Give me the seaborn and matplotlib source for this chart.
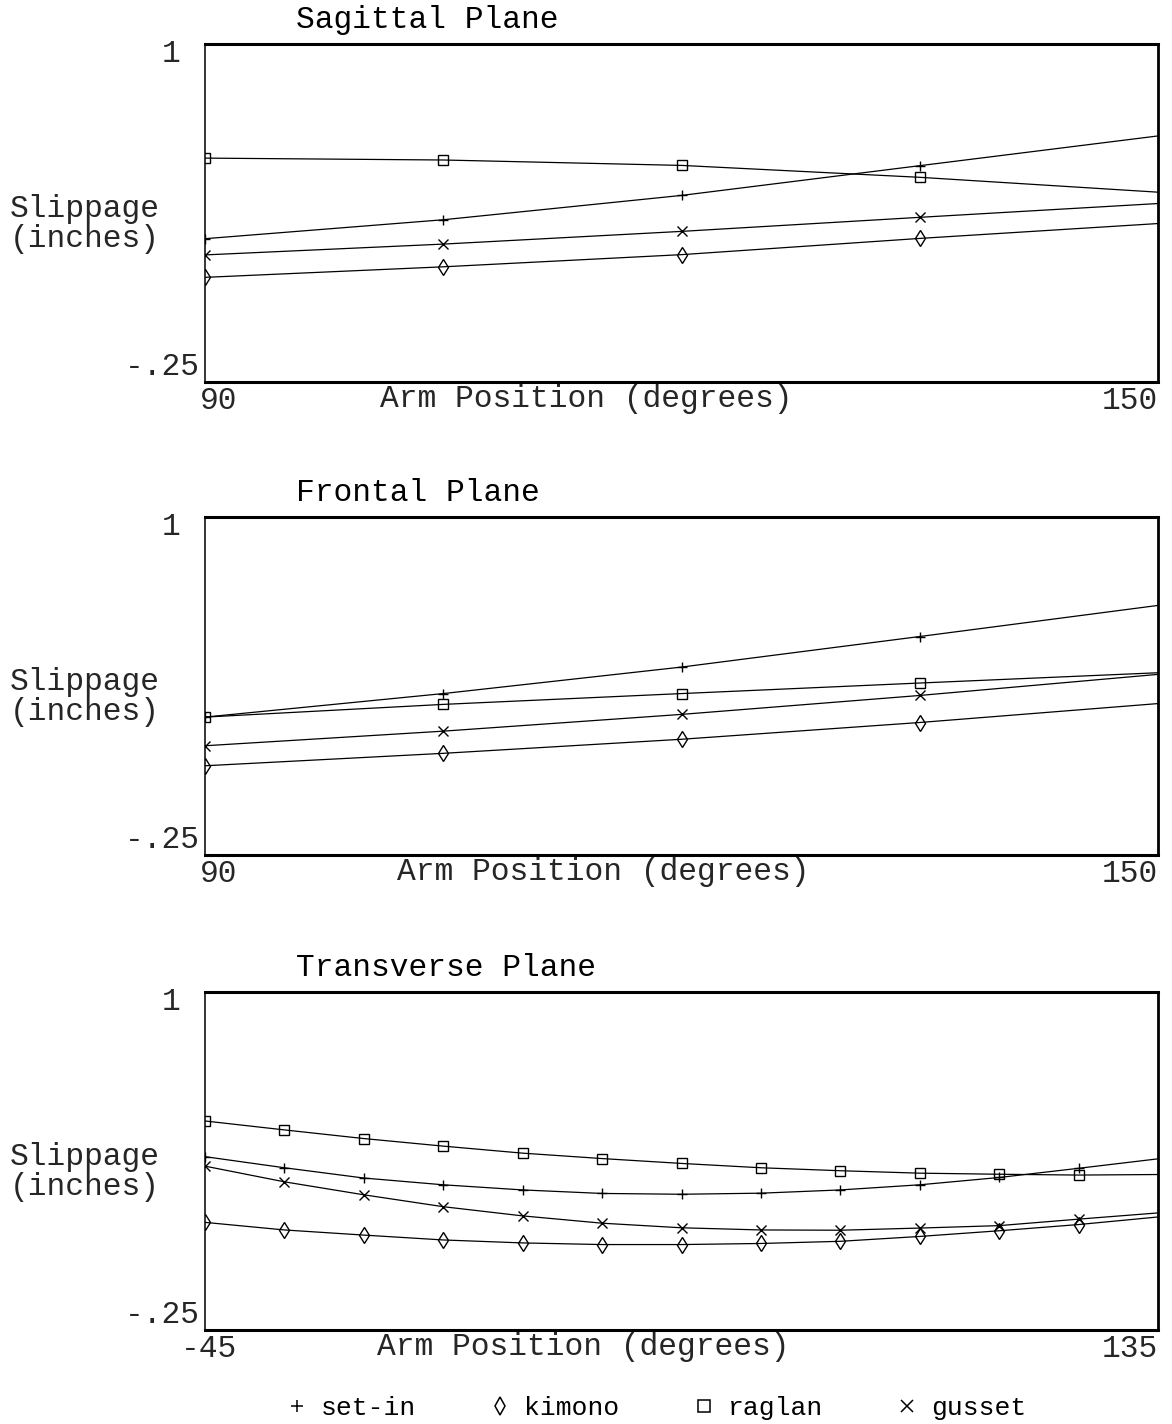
import matplotlib
matplotlib.use("Agg")
import matplotlib.pyplot as plt
import matplotlib.transforms as mtransforms
from matplotlib.lines import Line2D
import numpy as np
import pandas as pd
import seaborn as sns

# garment types and their markers
garments = ["set-in", "kimono", "raglan", "gusset"]
garment_markers = {"set-in": "+", "kimono": "d", "raglan": "s", "gusset": "x"}

# Sagittal plane (arm position 90..150 degrees)
sag_angle = [90, 105, 120, 135, 150]
sag_setin = [0.28, 0.35, 0.44, 0.55, 0.66]
sag_kimono = [0.137, 0.176, 0.221, 0.281, 0.336]
sag_raglan = [0.578, 0.571, 0.551, 0.507, 0.452]
sag_gusset = [0.22, 0.26, 0.307, 0.359, 0.41]

# Frontal plane
fro_angle = [90, 105, 120, 135, 150]
fro_setin = [0.26, 0.347, 0.445, 0.558, 0.673]
fro_kimono = [0.08, 0.126, 0.178, 0.24, 0.31]
fro_raglan = [0.26, 0.307, 0.347, 0.386, 0.424]
fro_gusset = [0.154, 0.208, 0.27, 0.34, 0.418]

# Transverse plane (arm position -45..135 degrees)
tra_angle = [-45, -30, -15, 0, 15, 30, 45, 60, 75, 90, 105, 120, 135]
tra_setin = [0.391, 0.35, 0.312, 0.287, 0.268, 0.255, 0.252, 0.256, 0.268, 0.287, 0.314, 0.348, 0.383]
tra_kimono = [0.148, 0.12, 0.101, 0.083, 0.072, 0.066, 0.066, 0.07, 0.078, 0.096, 0.117, 0.14, 0.168]
tra_raglan = [0.523, 0.49, 0.458, 0.43, 0.404, 0.384, 0.366, 0.35, 0.339, 0.33, 0.326, 0.323, 0.325]
tra_gusset = [0.356, 0.298, 0.25, 0.206, 0.172, 0.145, 0.128, 0.12, 0.119, 0.127, 0.136, 0.16, 0.183]

panels = [
    ("Sagittal Plane", sag_angle, [sag_setin, sag_kimono, sag_raglan, sag_gusset], ("90", "150"), 0.184),
    ("Frontal Plane", fro_angle, [fro_setin, fro_kimono, fro_raglan, fro_gusset], ("90", "150"), 0.201),
    ("Transverse Plane", tra_angle, [tra_setin, tra_kimono, tra_raglan, tra_gusset], ("-45", "135"), 0.181),
]

sns.set_style("white")
plt.rcParams["font.family"] = ["Liberation Mono", "DejaVu Sans Mono"]
plt.rcParams["text.color"] = "black"

FS = 22.5
fig = plt.figure(figsize=(11.72, 14.24), dpi=100)

ax_left = 205 / 1172
ax_width = (1158 - 205) / 1172
ax_height = 338 / 1424
tops = [44, 517, 992]


def make_long(angle, series):
    frames = []
    for name, vals in zip(garments, series):
        frames.append(pd.DataFrame({"angle": angle, "slippage": vals, "garment": name}))
    return pd.concat(frames, ignore_index=True)


for (title, angle, series, xlabels, xlab_pos), top in zip(panels, tops):
    bottom = 1 - (top + 338) / 1424
    ax = fig.add_axes([ax_left, bottom, ax_width, ax_height])
    df = make_long(angle, series)
    for g in garments:
        sub = df[df["garment"] == g]
        msize = 8 if g == "kimono" else 7
        sns.lineplot(
            data=sub, x="angle", y="slippage", color="black", estimator=None,
            legend=False, ax=ax, linewidth=0.9, marker=garment_markers[g],
            markersize=msize, markeredgecolor="black", markeredgewidth=1.0,
            markerfacecolor="none", markevery=slice(0, len(angle) - 1),
        )
    ax.set_xlim(angle[0], angle[-1])
    ax.set_ylim(-0.25, 1)

    # spines: heavy top/bottom/right, thin left
    for side, lw in [("top", 2.2), ("bottom", 2.2), ("right", 2.0), ("left", 1.1)]:
        ax.spines[side].set_visible(True)
        ax.spines[side].set_linewidth(lw)
        ax.spines[side].set_color("black")

    ax.tick_params(length=0, labelsize=FS, pad=4)
    ax.set_yticks([-0.25, 1])
    ax.set_yticklabels(["-.25", "1 "])
    yl = ax.get_yticklabels()
    yl[0].set_va("bottom")
    yl[1].set_va("top")
    yl[1].set_transform(yl[1].get_transform()
                        + mtransforms.ScaledTranslation(0, 0.05, fig.dpi_scale_trans))

    ax.set_xticks([angle[0], angle[-1]])
    ax.set_xticklabels(list(xlabels))
    xl = ax.get_xticklabels()
    xl[0].set_ha("right")
    xl[0].set_transform(xl[0].get_transform()
                        + mtransforms.ScaledTranslation(0.32, 0.02, fig.dpi_scale_trans))
    xl[1].set_ha("right")
    xl[1].set_transform(xl[1].get_transform()
                        + mtransforms.ScaledTranslation(0, 0.02, fig.dpi_scale_trans))

    ax.set_xlabel("Arm Position (degrees)", fontsize=FS, ha="left", va="center")
    ax.xaxis.set_label_coords(xlab_pos, -0.05)
    ax.set_ylabel("Slippage\n(inches)", fontsize=FS, rotation=0, ha="left",
                  va="center", linespacing=1.0)
    ax.yaxis.set_label_coords(-0.2046, 0.467)

    ax.text(0.095, 1.047, title, transform=ax.transAxes, fontsize=FS,
            ha="left", va="baseline")

handles = [
    Line2D([], [], linestyle="none", marker=garment_markers[g], markersize=9,
           markeredgecolor="black", markerfacecolor="none", markeredgewidth=1.1)
    for g in garments
]
fig.legend(handles, garments, loc="center", bbox_to_anchor=(0.561, 0.011),
           ncol=4, frameon=False, fontsize=19, handlelength=0.6,
           handletextpad=0.6, columnspacing=2.9)

fig.savefig("out.png", dpi=100, facecolor="white")
